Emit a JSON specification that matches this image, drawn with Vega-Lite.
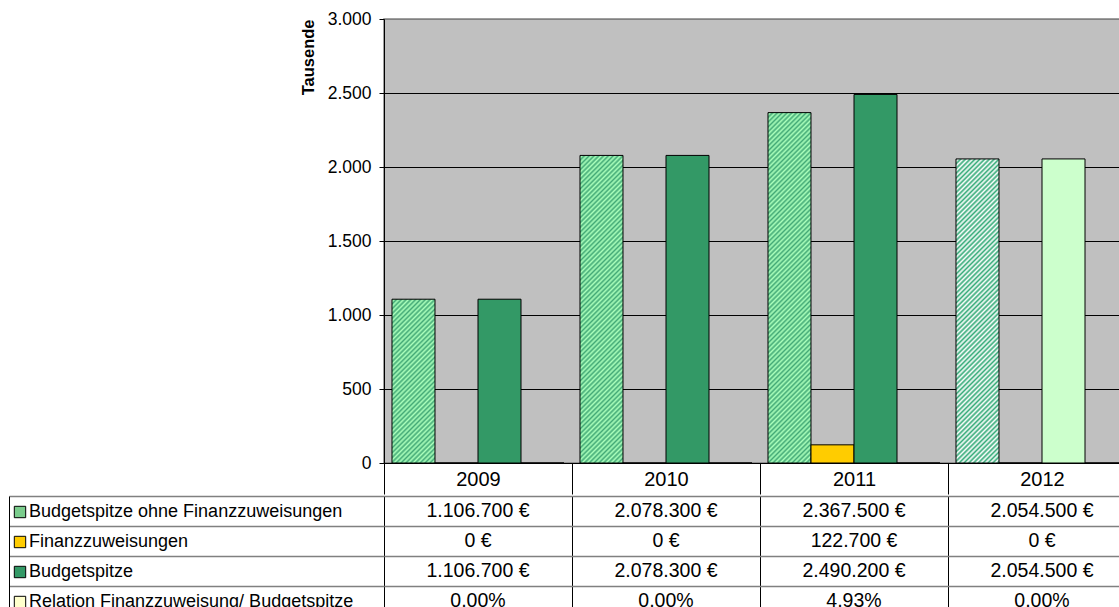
{
  "$schema": "https://vega.github.io/schema/vega-lite/v6.json",
  "padding": {"left": 8, "top": 9, "right": 0, "bottom": 0},
  "spacing": -5,
  "config": {
    "font": "Liberation Sans",
    "locale": {"number": {"decimal": ",", "thousands": ".", "grouping": [3], "currency": ["", " €"]}},
    "view": {"stroke": null},
    "axis": {"labelColor": "#000000", "titleColor": "#000000", "labelFont": "Liberation Sans", "titleFont": "Liberation Sans"}
  },
  "datasets": {
    "budget": [
      {"year": "2009", "series": "Budgetspitze ohne Finanzzuweisungen", "value": 1106700},
      {"year": "2009", "series": "Finanzzuweisungen", "value": 0},
      {"year": "2009", "series": "Budgetspitze", "value": 1106700},
      {"year": "2009", "series": "Relation Finanzzuweisung/ Budgetspitze", "value": 0},
      {"year": "2010", "series": "Budgetspitze ohne Finanzzuweisungen", "value": 2078300},
      {"year": "2010", "series": "Finanzzuweisungen", "value": 0},
      {"year": "2010", "series": "Budgetspitze", "value": 2078300},
      {"year": "2010", "series": "Relation Finanzzuweisung/ Budgetspitze", "value": 0},
      {"year": "2011", "series": "Budgetspitze ohne Finanzzuweisungen", "value": 2367500},
      {"year": "2011", "series": "Finanzzuweisungen", "value": 122700},
      {"year": "2011", "series": "Budgetspitze", "value": 2490200},
      {"year": "2011", "series": "Relation Finanzzuweisung/ Budgetspitze", "value": 0.0493},
      {"year": "2012", "series": "Budgetspitze ohne Finanzzuweisungen", "value": 2054500},
      {"year": "2012", "series": "Finanzzuweisungen", "value": 0},
      {"year": "2012", "series": "Budgetspitze", "value": 2054500},
      {"year": "2012", "series": "Relation Finanzzuweisung/ Budgetspitze", "value": 0}
    ]
  },
  "vconcat": [
    {
      "width": 752,
      "height": 444,
      "data": {"name": "budget"},
      "view": {"fill": "#C0C0C0", "stroke": "#808080", "strokeWidth": 1.5},
      "mark": {"type": "bar", "stroke": "#000000", "strokeWidth": 1},
      "encoding": {
        "x": {
          "field": "year", "type": "nominal",
          "scale": {"paddingInner": 0, "paddingOuter": 0},
          "axis": {"title": null, "labelAngle": 0, "labelFontSize": 20, "labelBaseline": "middle", "labelPadding": -15,
                   "tickBand": "extent", "tickSize": 31, "tickColor": "#000000", "tickWidth": 1, "domainColor": "#000000", "domainWidth": 1}
        },
        "xOffset": {
          "field": "series",
          "scale": {"domain": ["Budgetspitze ohne Finanzzuweisungen", "Finanzzuweisungen", "Budgetspitze", "Relation Finanzzuweisung/ Budgetspitze"], "paddingInner": 0, "paddingOuter": 0.186}
        },
        "y": {
          "field": "value", "type": "quantitative",
          "scale": {"domain": [0, 3000000], "nice": false},
          "axis": {
            "values": [0, 500000, 1000000, 1500000, 2000000, 2500000, 3000000],
            "labelExpr": "format(datum.value / 1000, ',d')",
            "labelFontSize": 17.5, "labelPadding": 8, "tickSize": 5, "tickColor": "#000000", "domainColor": "#000000",
            "grid": true, "gridColor": {"condition": {"test": "datum.value === 3000000", "value": "#808080"}, "value": "#000000"}, "gridWidth": 1,
            "title": "Tausende", "titleFontSize": 16.5, "titleFontWeight": "bold", "titleAnchor": "end", "titlePadding": 11
          }
        },
        "fill": {
          "field": "series", "type": "nominal",
          "scale": {
            "domain": ["Budgetspitze ohne Finanzzuweisungen", "Finanzzuweisungen", "Budgetspitze", "Relation Finanzzuweisung/ Budgetspitze"],
            "range": ["#7ACC8C", "#FFCC00", "#339966", "#FFFFCC"]
          },
          "condition": [
            {"test": "datum.year === '2012' && datum.series === 'Budgetspitze'", "value": "#CCFFCC"},
            {"test": "datum.year === '2012' && datum.series === 'Budgetspitze ohne Finanzzuweisungen'", "value": {"gradient": "linear", "x1": 0, "y1": 0, "x2": 0.182387, "y2": 1.28972, "stops": [
              {"offset":0,"color":"#3A7"},{"offset":0.006,"color":"#FFF"},{"offset":0.012,"color":"#3A7"},{"offset":0.018,"color":"#FFF"},{"offset":0.024,"color":"#3A7"},{"offset":0.03,"color":"#FFF"},{"offset":0.036,"color":"#3A7"},{"offset":0.042,"color":"#FFF"},{"offset":0.048,"color":"#3A7"},{"offset":0.054,"color":"#FFF"},
              {"offset":0.06,"color":"#3A7"},{"offset":0.066,"color":"#FFF"},{"offset":0.072,"color":"#3A7"},{"offset":0.078,"color":"#FFF"},{"offset":0.084,"color":"#3A7"},{"offset":0.09,"color":"#FFF"},{"offset":0.096,"color":"#3A7"},{"offset":0.102,"color":"#FFF"},{"offset":0.108,"color":"#3A7"},{"offset":0.114,"color":"#FFF"},
              {"offset":0.12,"color":"#3A7"},{"offset":0.126,"color":"#FFF"},{"offset":0.132,"color":"#3A7"},{"offset":0.138,"color":"#FFF"},{"offset":0.144,"color":"#3A7"},{"offset":0.15,"color":"#FFF"},{"offset":0.156,"color":"#3A7"},{"offset":0.162,"color":"#FFF"},{"offset":0.168,"color":"#3A7"},{"offset":0.174,"color":"#FFF"},
              {"offset":0.18,"color":"#3A7"},{"offset":0.186,"color":"#FFF"},{"offset":0.192,"color":"#3A7"},{"offset":0.198,"color":"#FFF"},{"offset":0.204,"color":"#3A7"},{"offset":0.21,"color":"#FFF"},{"offset":0.216,"color":"#3A7"},{"offset":0.222,"color":"#FFF"},{"offset":0.228,"color":"#3A7"},{"offset":0.234,"color":"#FFF"},
              {"offset":0.24,"color":"#3A7"},{"offset":0.246,"color":"#FFF"},{"offset":0.252,"color":"#3A7"},{"offset":0.258,"color":"#FFF"},{"offset":0.264,"color":"#3A7"},{"offset":0.27,"color":"#FFF"},{"offset":0.276,"color":"#3A7"},{"offset":0.282,"color":"#FFF"},{"offset":0.288,"color":"#3A7"},{"offset":0.294,"color":"#FFF"},
              {"offset":0.3,"color":"#3A7"},{"offset":0.306,"color":"#FFF"},{"offset":0.312,"color":"#3A7"},{"offset":0.318,"color":"#FFF"},{"offset":0.324,"color":"#3A7"},{"offset":0.33,"color":"#FFF"},{"offset":0.336,"color":"#3A7"},{"offset":0.342,"color":"#FFF"},{"offset":0.348,"color":"#3A7"},{"offset":0.354,"color":"#FFF"},
              {"offset":0.36,"color":"#3A7"},{"offset":0.366,"color":"#FFF"},{"offset":0.372,"color":"#3A7"},{"offset":0.378,"color":"#FFF"},{"offset":0.384,"color":"#3A7"},{"offset":0.39,"color":"#FFF"},{"offset":0.396,"color":"#3A7"},{"offset":0.402,"color":"#FFF"},{"offset":0.408,"color":"#3A7"},{"offset":0.414,"color":"#FFF"},
              {"offset":0.42,"color":"#3A7"},{"offset":0.426,"color":"#FFF"},{"offset":0.432,"color":"#3A7"},{"offset":0.438,"color":"#FFF"},{"offset":0.444,"color":"#3A7"},{"offset":0.45,"color":"#FFF"},{"offset":0.456,"color":"#3A7"},{"offset":0.462,"color":"#FFF"},{"offset":0.468,"color":"#3A7"},{"offset":0.474,"color":"#FFF"},
              {"offset":0.48,"color":"#3A7"},{"offset":0.486,"color":"#FFF"},{"offset":0.492,"color":"#3A7"},{"offset":0.498,"color":"#FFF"},{"offset":0.504,"color":"#3A7"},{"offset":0.51,"color":"#FFF"},{"offset":0.516,"color":"#3A7"},{"offset":0.522,"color":"#FFF"},{"offset":0.528,"color":"#3A7"},{"offset":0.534,"color":"#FFF"},
              {"offset":0.54,"color":"#3A7"},{"offset":0.546,"color":"#FFF"},{"offset":0.552,"color":"#3A7"},{"offset":0.558,"color":"#FFF"},{"offset":0.564,"color":"#3A7"},{"offset":0.57,"color":"#FFF"},{"offset":0.576,"color":"#3A7"},{"offset":0.582,"color":"#FFF"},{"offset":0.588,"color":"#3A7"},{"offset":0.594,"color":"#FFF"},
              {"offset":0.6,"color":"#3A7"},{"offset":0.606,"color":"#FFF"},{"offset":0.612,"color":"#3A7"},{"offset":0.618,"color":"#FFF"},{"offset":0.624,"color":"#3A7"},{"offset":0.63,"color":"#FFF"},{"offset":0.636,"color":"#3A7"},{"offset":0.642,"color":"#FFF"},{"offset":0.648,"color":"#3A7"},{"offset":0.654,"color":"#FFF"},
              {"offset":0.66,"color":"#3A7"},{"offset":0.666,"color":"#FFF"},{"offset":0.672,"color":"#3A7"},{"offset":0.678,"color":"#FFF"},{"offset":0.684,"color":"#3A7"},{"offset":0.69,"color":"#FFF"},{"offset":0.696,"color":"#3A7"},{"offset":0.702,"color":"#FFF"},{"offset":0.708,"color":"#3A7"},{"offset":0.714,"color":"#FFF"},
              {"offset":0.72,"color":"#3A7"},{"offset":0.726,"color":"#FFF"},{"offset":0.732,"color":"#3A7"},{"offset":0.738,"color":"#FFF"},{"offset":0.744,"color":"#3A7"},{"offset":0.75,"color":"#FFF"},{"offset":0.756,"color":"#3A7"},{"offset":0.762,"color":"#FFF"},{"offset":0.768,"color":"#3A7"},{"offset":0.774,"color":"#FFF"},
              {"offset":0.78,"color":"#3A7"},{"offset":0.786,"color":"#FFF"},{"offset":0.792,"color":"#3A7"},{"offset":0.798,"color":"#FFF"},{"offset":0.804,"color":"#3A7"},{"offset":0.81,"color":"#FFF"},{"offset":0.816,"color":"#3A7"},{"offset":0.822,"color":"#FFF"},{"offset":0.828,"color":"#3A7"},{"offset":0.834,"color":"#FFF"},
              {"offset":0.84,"color":"#3A7"},{"offset":0.846,"color":"#FFF"},{"offset":0.852,"color":"#3A7"},{"offset":0.858,"color":"#FFF"},{"offset":0.864,"color":"#3A7"},{"offset":0.87,"color":"#FFF"}
            ]}},
            {"test": "datum.year === '2011' && datum.series === 'Budgetspitze ohne Finanzzuweisungen'", "value": {"gradient": "linear", "x1": 0, "y1": 0, "x2": 0.138015, "y2": 1.12463, "stops": [
              {"offset":0,"color":"#4A7"},{"offset":0.006,"color":"#AFB"},{"offset":0.012,"color":"#4A7"},{"offset":0.018,"color":"#AFB"},{"offset":0.024,"color":"#4A7"},{"offset":0.03,"color":"#AFB"},{"offset":0.036,"color":"#4A7"},{"offset":0.042,"color":"#AFB"},{"offset":0.048,"color":"#4A7"},{"offset":0.054,"color":"#AFB"},
              {"offset":0.06,"color":"#4A7"},{"offset":0.066,"color":"#AFB"},{"offset":0.072,"color":"#4A7"},{"offset":0.078,"color":"#AFB"},{"offset":0.084,"color":"#4A7"},{"offset":0.09,"color":"#AFB"},{"offset":0.096,"color":"#4A7"},{"offset":0.102,"color":"#AFB"},{"offset":0.108,"color":"#4A7"},{"offset":0.114,"color":"#AFB"},
              {"offset":0.12,"color":"#4A7"},{"offset":0.126,"color":"#AFB"},{"offset":0.132,"color":"#4A7"},{"offset":0.138,"color":"#AFB"},{"offset":0.144,"color":"#4A7"},{"offset":0.15,"color":"#AFB"},{"offset":0.156,"color":"#4A7"},{"offset":0.162,"color":"#AFB"},{"offset":0.168,"color":"#4A7"},{"offset":0.174,"color":"#AFB"},
              {"offset":0.18,"color":"#4A7"},{"offset":0.186,"color":"#AFB"},{"offset":0.192,"color":"#4A7"},{"offset":0.198,"color":"#AFB"},{"offset":0.204,"color":"#4A7"},{"offset":0.21,"color":"#AFB"},{"offset":0.216,"color":"#4A7"},{"offset":0.222,"color":"#AFB"},{"offset":0.228,"color":"#4A7"},{"offset":0.234,"color":"#AFB"},
              {"offset":0.24,"color":"#4A7"},{"offset":0.246,"color":"#AFB"},{"offset":0.252,"color":"#4A7"},{"offset":0.258,"color":"#AFB"},{"offset":0.264,"color":"#4A7"},{"offset":0.27,"color":"#AFB"},{"offset":0.276,"color":"#4A7"},{"offset":0.282,"color":"#AFB"},{"offset":0.288,"color":"#4A7"},{"offset":0.294,"color":"#AFB"},
              {"offset":0.3,"color":"#4A7"},{"offset":0.306,"color":"#AFB"},{"offset":0.312,"color":"#4A7"},{"offset":0.318,"color":"#AFB"},{"offset":0.324,"color":"#4A7"},{"offset":0.33,"color":"#AFB"},{"offset":0.336,"color":"#4A7"},{"offset":0.342,"color":"#AFB"},{"offset":0.348,"color":"#4A7"},{"offset":0.354,"color":"#AFB"},
              {"offset":0.36,"color":"#4A7"},{"offset":0.366,"color":"#AFB"},{"offset":0.372,"color":"#4A7"},{"offset":0.378,"color":"#AFB"},{"offset":0.384,"color":"#4A7"},{"offset":0.39,"color":"#AFB"},{"offset":0.396,"color":"#4A7"},{"offset":0.402,"color":"#AFB"},{"offset":0.408,"color":"#4A7"},{"offset":0.414,"color":"#AFB"},
              {"offset":0.42,"color":"#4A7"},{"offset":0.426,"color":"#AFB"},{"offset":0.432,"color":"#4A7"},{"offset":0.438,"color":"#AFB"},{"offset":0.444,"color":"#4A7"},{"offset":0.45,"color":"#AFB"},{"offset":0.456,"color":"#4A7"},{"offset":0.462,"color":"#AFB"},{"offset":0.468,"color":"#4A7"},{"offset":0.474,"color":"#AFB"},
              {"offset":0.48,"color":"#4A7"},{"offset":0.486,"color":"#AFB"},{"offset":0.492,"color":"#4A7"},{"offset":0.498,"color":"#AFB"},{"offset":0.504,"color":"#4A7"},{"offset":0.51,"color":"#AFB"},{"offset":0.516,"color":"#4A7"},{"offset":0.522,"color":"#AFB"},{"offset":0.528,"color":"#4A7"},{"offset":0.534,"color":"#AFB"},
              {"offset":0.54,"color":"#4A7"},{"offset":0.546,"color":"#AFB"},{"offset":0.552,"color":"#4A7"},{"offset":0.558,"color":"#AFB"},{"offset":0.564,"color":"#4A7"},{"offset":0.57,"color":"#AFB"},{"offset":0.576,"color":"#4A7"},{"offset":0.582,"color":"#AFB"},{"offset":0.588,"color":"#4A7"},{"offset":0.594,"color":"#AFB"},
              {"offset":0.6,"color":"#4A7"},{"offset":0.606,"color":"#AFB"},{"offset":0.612,"color":"#4A7"},{"offset":0.618,"color":"#AFB"},{"offset":0.624,"color":"#4A7"},{"offset":0.63,"color":"#AFB"},{"offset":0.636,"color":"#4A7"},{"offset":0.642,"color":"#AFB"},{"offset":0.648,"color":"#4A7"},{"offset":0.654,"color":"#AFB"},
              {"offset":0.66,"color":"#4A7"},{"offset":0.666,"color":"#AFB"},{"offset":0.672,"color":"#4A7"},{"offset":0.678,"color":"#AFB"},{"offset":0.684,"color":"#4A7"},{"offset":0.69,"color":"#AFB"},{"offset":0.696,"color":"#4A7"},{"offset":0.702,"color":"#AFB"},{"offset":0.708,"color":"#4A7"},{"offset":0.714,"color":"#AFB"},
              {"offset":0.72,"color":"#4A7"},{"offset":0.726,"color":"#AFB"},{"offset":0.732,"color":"#4A7"},{"offset":0.738,"color":"#AFB"},{"offset":0.744,"color":"#4A7"},{"offset":0.75,"color":"#AFB"},{"offset":0.756,"color":"#4A7"},{"offset":0.762,"color":"#AFB"},{"offset":0.768,"color":"#4A7"},{"offset":0.774,"color":"#AFB"},
              {"offset":0.78,"color":"#4A7"},{"offset":0.786,"color":"#AFB"},{"offset":0.792,"color":"#4A7"},{"offset":0.798,"color":"#AFB"},{"offset":0.804,"color":"#4A7"},{"offset":0.81,"color":"#AFB"},{"offset":0.816,"color":"#4A7"},{"offset":0.822,"color":"#AFB"},{"offset":0.828,"color":"#4A7"},{"offset":0.834,"color":"#AFB"},
              {"offset":0.84,"color":"#4A7"},{"offset":0.846,"color":"#AFB"},{"offset":0.852,"color":"#4A7"},{"offset":0.858,"color":"#AFB"},{"offset":0.864,"color":"#4A7"},{"offset":0.87,"color":"#AFB"},{"offset":0.876,"color":"#4A7"},{"offset":0.882,"color":"#AFB"},{"offset":0.888,"color":"#4A7"},{"offset":0.894,"color":"#AFB"},
              {"offset":0.9,"color":"#4A7"},{"offset":0.906,"color":"#AFB"},{"offset":0.912,"color":"#4A7"},{"offset":0.918,"color":"#AFB"},{"offset":0.924,"color":"#4A7"},{"offset":0.93,"color":"#AFB"},{"offset":0.936,"color":"#4A7"},{"offset":0.942,"color":"#AFB"},{"offset":0.948,"color":"#4A7"},{"offset":0.954,"color":"#AFB"},
              {"offset":0.96,"color":"#4A7"},{"offset":0.966,"color":"#AFB"},{"offset":0.972,"color":"#4A7"},{"offset":0.978,"color":"#AFB"},{"offset":0.984,"color":"#4A7"},{"offset":0.99,"color":"#AFB"}
            ]}},
            {"test": "datum.year === '2010' && datum.series === 'Budgetspitze ohne Finanzzuweisungen'", "value": {"gradient": "linear", "x1": 0, "y1": 0, "x2": 0.178311, "y2": 1.27551, "stops": [
              {"offset":0,"color":"#4A7"},{"offset":0.006,"color":"#AFB"},{"offset":0.012,"color":"#4A7"},{"offset":0.018,"color":"#AFB"},{"offset":0.024,"color":"#4A7"},{"offset":0.03,"color":"#AFB"},{"offset":0.036,"color":"#4A7"},{"offset":0.042,"color":"#AFB"},{"offset":0.048,"color":"#4A7"},{"offset":0.054,"color":"#AFB"},
              {"offset":0.06,"color":"#4A7"},{"offset":0.066,"color":"#AFB"},{"offset":0.072,"color":"#4A7"},{"offset":0.078,"color":"#AFB"},{"offset":0.084,"color":"#4A7"},{"offset":0.09,"color":"#AFB"},{"offset":0.096,"color":"#4A7"},{"offset":0.102,"color":"#AFB"},{"offset":0.108,"color":"#4A7"},{"offset":0.114,"color":"#AFB"},
              {"offset":0.12,"color":"#4A7"},{"offset":0.126,"color":"#AFB"},{"offset":0.132,"color":"#4A7"},{"offset":0.138,"color":"#AFB"},{"offset":0.144,"color":"#4A7"},{"offset":0.15,"color":"#AFB"},{"offset":0.156,"color":"#4A7"},{"offset":0.162,"color":"#AFB"},{"offset":0.168,"color":"#4A7"},{"offset":0.174,"color":"#AFB"},
              {"offset":0.18,"color":"#4A7"},{"offset":0.186,"color":"#AFB"},{"offset":0.192,"color":"#4A7"},{"offset":0.198,"color":"#AFB"},{"offset":0.204,"color":"#4A7"},{"offset":0.21,"color":"#AFB"},{"offset":0.216,"color":"#4A7"},{"offset":0.222,"color":"#AFB"},{"offset":0.228,"color":"#4A7"},{"offset":0.234,"color":"#AFB"},
              {"offset":0.24,"color":"#4A7"},{"offset":0.246,"color":"#AFB"},{"offset":0.252,"color":"#4A7"},{"offset":0.258,"color":"#AFB"},{"offset":0.264,"color":"#4A7"},{"offset":0.27,"color":"#AFB"},{"offset":0.276,"color":"#4A7"},{"offset":0.282,"color":"#AFB"},{"offset":0.288,"color":"#4A7"},{"offset":0.294,"color":"#AFB"},
              {"offset":0.3,"color":"#4A7"},{"offset":0.306,"color":"#AFB"},{"offset":0.312,"color":"#4A7"},{"offset":0.318,"color":"#AFB"},{"offset":0.324,"color":"#4A7"},{"offset":0.33,"color":"#AFB"},{"offset":0.336,"color":"#4A7"},{"offset":0.342,"color":"#AFB"},{"offset":0.348,"color":"#4A7"},{"offset":0.354,"color":"#AFB"},
              {"offset":0.36,"color":"#4A7"},{"offset":0.366,"color":"#AFB"},{"offset":0.372,"color":"#4A7"},{"offset":0.378,"color":"#AFB"},{"offset":0.384,"color":"#4A7"},{"offset":0.39,"color":"#AFB"},{"offset":0.396,"color":"#4A7"},{"offset":0.402,"color":"#AFB"},{"offset":0.408,"color":"#4A7"},{"offset":0.414,"color":"#AFB"},
              {"offset":0.42,"color":"#4A7"},{"offset":0.426,"color":"#AFB"},{"offset":0.432,"color":"#4A7"},{"offset":0.438,"color":"#AFB"},{"offset":0.444,"color":"#4A7"},{"offset":0.45,"color":"#AFB"},{"offset":0.456,"color":"#4A7"},{"offset":0.462,"color":"#AFB"},{"offset":0.468,"color":"#4A7"},{"offset":0.474,"color":"#AFB"},
              {"offset":0.48,"color":"#4A7"},{"offset":0.486,"color":"#AFB"},{"offset":0.492,"color":"#4A7"},{"offset":0.498,"color":"#AFB"},{"offset":0.504,"color":"#4A7"},{"offset":0.51,"color":"#AFB"},{"offset":0.516,"color":"#4A7"},{"offset":0.522,"color":"#AFB"},{"offset":0.528,"color":"#4A7"},{"offset":0.534,"color":"#AFB"},
              {"offset":0.54,"color":"#4A7"},{"offset":0.546,"color":"#AFB"},{"offset":0.552,"color":"#4A7"},{"offset":0.558,"color":"#AFB"},{"offset":0.564,"color":"#4A7"},{"offset":0.57,"color":"#AFB"},{"offset":0.576,"color":"#4A7"},{"offset":0.582,"color":"#AFB"},{"offset":0.588,"color":"#4A7"},{"offset":0.594,"color":"#AFB"},
              {"offset":0.6,"color":"#4A7"},{"offset":0.606,"color":"#AFB"},{"offset":0.612,"color":"#4A7"},{"offset":0.618,"color":"#AFB"},{"offset":0.624,"color":"#4A7"},{"offset":0.63,"color":"#AFB"},{"offset":0.636,"color":"#4A7"},{"offset":0.642,"color":"#AFB"},{"offset":0.648,"color":"#4A7"},{"offset":0.654,"color":"#AFB"},
              {"offset":0.66,"color":"#4A7"},{"offset":0.666,"color":"#AFB"},{"offset":0.672,"color":"#4A7"},{"offset":0.678,"color":"#AFB"},{"offset":0.684,"color":"#4A7"},{"offset":0.69,"color":"#AFB"},{"offset":0.696,"color":"#4A7"},{"offset":0.702,"color":"#AFB"},{"offset":0.708,"color":"#4A7"},{"offset":0.714,"color":"#AFB"},
              {"offset":0.72,"color":"#4A7"},{"offset":0.726,"color":"#AFB"},{"offset":0.732,"color":"#4A7"},{"offset":0.738,"color":"#AFB"},{"offset":0.744,"color":"#4A7"},{"offset":0.75,"color":"#AFB"},{"offset":0.756,"color":"#4A7"},{"offset":0.762,"color":"#AFB"},{"offset":0.768,"color":"#4A7"},{"offset":0.774,"color":"#AFB"},
              {"offset":0.78,"color":"#4A7"},{"offset":0.786,"color":"#AFB"},{"offset":0.792,"color":"#4A7"},{"offset":0.798,"color":"#AFB"},{"offset":0.804,"color":"#4A7"},{"offset":0.81,"color":"#AFB"},{"offset":0.816,"color":"#4A7"},{"offset":0.822,"color":"#AFB"},{"offset":0.828,"color":"#4A7"},{"offset":0.834,"color":"#AFB"},
              {"offset":0.84,"color":"#4A7"},{"offset":0.846,"color":"#AFB"},{"offset":0.852,"color":"#4A7"},{"offset":0.858,"color":"#AFB"},{"offset":0.864,"color":"#4A7"},{"offset":0.87,"color":"#AFB"},{"offset":0.876,"color":"#4A7"},{"offset":0.882,"color":"#AFB"}
            ]}},
            {"test": "datum.year === '2009' && datum.series === 'Budgetspitze ohne Finanzzuweisungen'", "value": {"gradient": "linear", "x1": 0, "y1": 0, "x2": 0.5998, "y2": 2.28471, "stops": [
              {"offset":0,"color":"#4A7"},{"offset":0.006,"color":"#AFB"},{"offset":0.012,"color":"#4A7"},{"offset":0.018,"color":"#AFB"},{"offset":0.024,"color":"#4A7"},{"offset":0.03,"color":"#AFB"},{"offset":0.036,"color":"#4A7"},{"offset":0.042,"color":"#AFB"},{"offset":0.048,"color":"#4A7"},{"offset":0.054,"color":"#AFB"},
              {"offset":0.06,"color":"#4A7"},{"offset":0.066,"color":"#AFB"},{"offset":0.072,"color":"#4A7"},{"offset":0.078,"color":"#AFB"},{"offset":0.084,"color":"#4A7"},{"offset":0.09,"color":"#AFB"},{"offset":0.096,"color":"#4A7"},{"offset":0.102,"color":"#AFB"},{"offset":0.108,"color":"#4A7"},{"offset":0.114,"color":"#AFB"},
              {"offset":0.12,"color":"#4A7"},{"offset":0.126,"color":"#AFB"},{"offset":0.132,"color":"#4A7"},{"offset":0.138,"color":"#AFB"},{"offset":0.144,"color":"#4A7"},{"offset":0.15,"color":"#AFB"},{"offset":0.156,"color":"#4A7"},{"offset":0.162,"color":"#AFB"},{"offset":0.168,"color":"#4A7"},{"offset":0.174,"color":"#AFB"},
              {"offset":0.18,"color":"#4A7"},{"offset":0.186,"color":"#AFB"},{"offset":0.192,"color":"#4A7"},{"offset":0.198,"color":"#AFB"},{"offset":0.204,"color":"#4A7"},{"offset":0.21,"color":"#AFB"},{"offset":0.216,"color":"#4A7"},{"offset":0.222,"color":"#AFB"},{"offset":0.228,"color":"#4A7"},{"offset":0.234,"color":"#AFB"},
              {"offset":0.24,"color":"#4A7"},{"offset":0.246,"color":"#AFB"},{"offset":0.252,"color":"#4A7"},{"offset":0.258,"color":"#AFB"},{"offset":0.264,"color":"#4A7"},{"offset":0.27,"color":"#AFB"},{"offset":0.276,"color":"#4A7"},{"offset":0.282,"color":"#AFB"},{"offset":0.288,"color":"#4A7"},{"offset":0.294,"color":"#AFB"},
              {"offset":0.3,"color":"#4A7"},{"offset":0.306,"color":"#AFB"},{"offset":0.312,"color":"#4A7"},{"offset":0.318,"color":"#AFB"},{"offset":0.324,"color":"#4A7"},{"offset":0.33,"color":"#AFB"},{"offset":0.336,"color":"#4A7"},{"offset":0.342,"color":"#AFB"},{"offset":0.348,"color":"#4A7"},{"offset":0.354,"color":"#AFB"},
              {"offset":0.36,"color":"#4A7"},{"offset":0.366,"color":"#AFB"},{"offset":0.372,"color":"#4A7"},{"offset":0.378,"color":"#AFB"},{"offset":0.384,"color":"#4A7"},{"offset":0.39,"color":"#AFB"},{"offset":0.396,"color":"#4A7"},{"offset":0.402,"color":"#AFB"},{"offset":0.408,"color":"#4A7"},{"offset":0.414,"color":"#AFB"},
              {"offset":0.42,"color":"#4A7"},{"offset":0.426,"color":"#AFB"},{"offset":0.432,"color":"#4A7"},{"offset":0.438,"color":"#AFB"},{"offset":0.444,"color":"#4A7"},{"offset":0.45,"color":"#AFB"},{"offset":0.456,"color":"#4A7"},{"offset":0.462,"color":"#AFB"},{"offset":0.468,"color":"#4A7"},{"offset":0.474,"color":"#AFB"},
              {"offset":0.48,"color":"#4A7"},{"offset":0.486,"color":"#AFB"},{"offset":0.492,"color":"#4A7"},{"offset":0.498,"color":"#AFB"},{"offset":0.504,"color":"#4A7"},{"offset":0.51,"color":"#AFB"},{"offset":0.516,"color":"#4A7"},{"offset":0.522,"color":"#AFB"}
            ]}}
          ],
          "legend": {
            "orient": "none", "legendX": -373, "legendY": 484, "title": null, "padding": 0,
            "symbolType": "square", "symbolSize": 130, "symbolStrokeColor": "#000000", "symbolStrokeWidth": 1, "symbolOpacity": 1,
            "labelFontSize": 18, "labelColor": "#000000", "labelOffset": 0, "labelLimit": 500, "rowPadding": 12
          }
        }
      }
    },
    {
      "width": 752,
      "height": 120,
      "data": {"name": "budget"},
      "layer": [
        {
          "transform": [{"filter": "datum.series !== 'Relation Finanzzuweisung/ Budgetspitze'"}],
          "mark": {"type": "text", "fontSize": 19.5, "color": "#000000", "baseline": "middle"},
          "encoding": {
            "x": {"field": "year", "type": "nominal", "scale": {"paddingInner": 0, "paddingOuter": 0},
                  "axis": {"title": null, "orient": "top", "labels": false, "ticks": false, "domain": false, "grid": true, "tickBand": "extent", "gridColor": "#000000", "gridWidth": 1}},
            "y": {"field": "series", "type": "nominal",
                  "scale": {"domain": ["Budgetspitze ohne Finanzzuweisungen", "Finanzzuweisungen", "Budgetspitze", "Relation Finanzzuweisung/ Budgetspitze"], "paddingInner": 0, "paddingOuter": 0},
                  "axis": {"title": null, "labels": false, "domain": false, "grid": true, "tickBand": "extent", "tickSize": 375, "tickColor": "#808080", "tickWidth": 1.5, "gridColor": "#808080", "gridWidth": 1.5}},
            "text": {"field": "value", "type": "quantitative", "format": "$,d"}
          }
        },
        {
          "transform": [{"filter": "datum.series === 'Relation Finanzzuweisung/ Budgetspitze'"}],
          "mark": {"type": "text", "fontSize": 19.5, "color": "#000000", "baseline": "middle"},
          "encoding": {
            "x": {"field": "year", "type": "nominal"},
            "y": {"field": "series", "type": "nominal",
                  "axis": {"title": null, "orient": "left", "offset": 375, "labels": false, "ticks": false, "grid": false, "domain": true, "domainColor": "#000000", "domainWidth": 1}},
            "text": {"field": "value", "type": "quantitative", "format": ".2%"}
          }
        }
      ],
      "resolve": {"axis": {"y": "independent"}}
    }
  ]
}
